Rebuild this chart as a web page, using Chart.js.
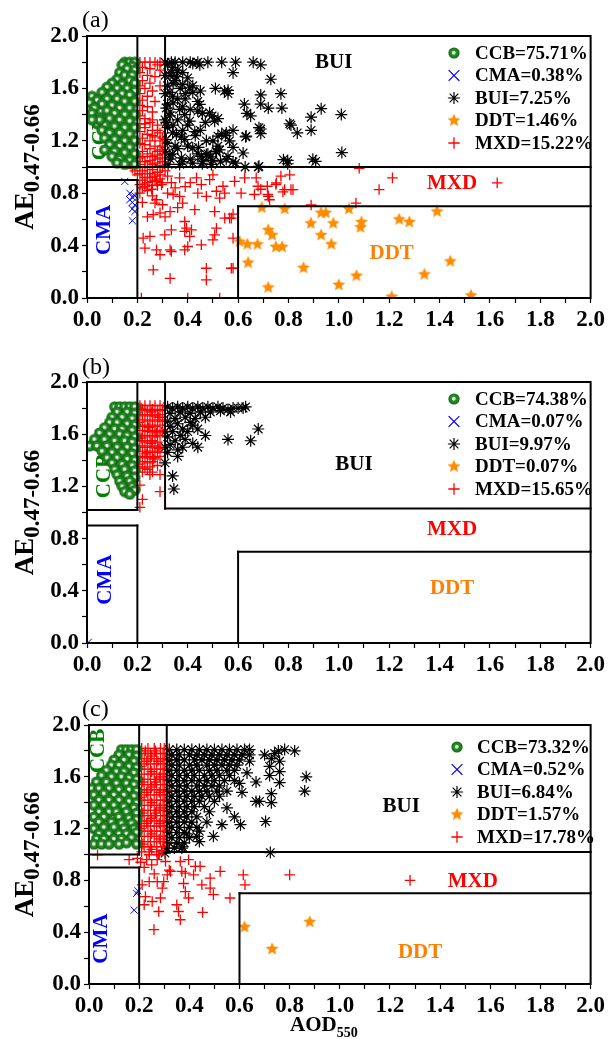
<!DOCTYPE html>
<html>
<head>
<meta charset="utf-8">
<script src="https://cdn.jsdelivr.net/npm/chart.js@4.4.1/dist/chart.umd.min.js"></script>
<style>
  html, body { margin: 0; padding: 0; background: #fff; }
  #wrap { position: relative; width: 608px; height: 1039px; }
  canvas { position: absolute; left: 0; }
</style>
</head>
<body>
<div id="wrap">
  <canvas id="ca" width="608" height="345" style="top:0px"></canvas>
  <canvas id="cb" width="608" height="345" style="top:345px"></canvas>
  <canvas id="cc" width="608" height="349" style="top:690px"></canvas>
</div>
<script>
const classes = ["CCB", "CMA", "BUI", "DDT", "MXD"];
const xTicks = [0.0, 0.2, 0.4, 0.6, 0.8, 1.0, 1.2, 1.4, 1.6, 1.8, 2.0];
const yTicks = [0.0, 0.4, 0.8, 1.2, 1.6, 2.0];

const sharesA = [75.71, 0.38, 7.25, 1.46, 15.22];
const sharesB = [74.38, 0.07, 9.97, 0.07, 15.65];
const sharesC = [73.32, 0.52, 6.84, 1.57, 17.78];

// ---------- panel (a) ----------
const ccbA = [[0.15,1.80],[0.17,1.80],[0.19,1.80],[0.14,1.78],[0.18,1.77],[0.16,1.75],[0.19,1.74],[0.13,1.72],[0.15,1.70],[0.18,1.70],
  [0.12,1.67],[0.17,1.66],[0.19,1.64],[0.10,1.64],[0.14,1.63],[0.08,1.61],[0.12,1.60],[0.16,1.60],[0.19,1.58],[0.06,1.57],
  [0.10,1.56],[0.14,1.56],[0.17,1.55],[0.02,1.54],[0.04,1.51],[0.08,1.52],[0.12,1.52],[0.01,1.49],[0.15,1.50],[0.19,1.50],
  [0.06,1.48],[0.10,1.47],[0.03,1.45],[0.13,1.45],[0.17,1.45],[0.08,1.43],[0.02,1.41],[0.11,1.41],[0.15,1.40],[0.19,1.40],
  [0.05,1.38],[0.09,1.37],[0.13,1.36],[0.17,1.35],[0.04,1.33],[0.07,1.32],[0.11,1.31],[0.15,1.30],[0.19,1.30],[0.06,1.28],
  [0.09,1.26],[0.13,1.26],[0.17,1.25],[0.07,1.22],[0.11,1.21],[0.15,1.20],[0.19,1.20],[0.09,1.17],[0.13,1.16],[0.17,1.15],
  [0.07,1.13],[0.11,1.12],[0.15,1.11],[0.19,1.10],[0.10,1.08],[0.13,1.06],[0.17,1.05],[0.12,1.03],[0.15,1.02],[0.19,1.02],
  [0.05,1.36],[0.02,1.36]];
const cmaA = [[0.15,0.89],[0.17,0.80],[0.18,0.77],[0.17,0.75],[0.18,0.73],[0.19,0.71],[0.18,0.68],[0.19,0.66],[0.18,0.59],[0.19,0.78]];
const buiA = [[0.31,1.80],[0.335,1.80],[0.35,1.80],[0.38,1.80],[0.41,1.80],[0.44,1.80],[0.48,1.80],[0.535,1.80],[0.59,1.80],[0.66,1.80],
  [0.69,1.78],[0.42,1.79],[0.448,1.78],[0.58,1.72],[0.73,1.67],[0.77,1.56],[0.69,1.55],[0.56,1.585],[0.56,1.56],[0.51,1.60],
  [0.546,1.58],[0.625,1.48],[0.69,1.48],[0.72,1.45],[0.774,1.45],[0.635,1.41],[0.65,1.39],[0.93,1.445],[0.89,1.38],[1.01,1.40],
  [0.805,1.33],[0.81,1.32],[0.835,1.26],[0.89,1.28],[0.69,1.29],[0.69,1.255],[0.63,1.23],[0.58,1.28],[0.535,1.255],[0.55,1.24],
  [0.566,1.20],[0.58,1.15],[0.62,1.107],[1.012,1.11],[0.78,1.056],[0.797,1.05],[0.908,1.043],[0.797,1.025],[0.58,1.04],[0.628,1.00],
  [0.68,1.00],[0.458,1.41],[0.497,1.39],[0.52,1.37],[0.474,1.20],[0.443,1.15],[0.49,1.077],[0.512,1.115],[0.458,1.025],[0.507,1.35],
  [0.487,1.414],[0.448,1.478],[0.44,1.427],[0.388,1.40],[0.408,1.35],[0.368,1.44],[0.342,1.49],[0.329,1.57],[0.408,1.605],[0.42,1.57],
  [0.342,1.64],[0.38,1.63],[0.336,1.72],[0.40,1.68],[0.355,1.69],[0.44,1.50],[0.375,1.23],[0.428,1.27],[0.388,1.21],[0.35,1.16],
  [0.42,1.146],[0.329,1.095],[0.375,1.07],[0.454,1.08],[0.474,1.095],[0.514,1.12],[0.527,1.13],[0.553,1.06],[0.59,1.03],[0.494,1.02],
  [0.42,1.03],[0.368,1.02],[0.322,1.02],[0.683,1.005],[0.897,1.06],[0.315,1.45],[0.315,1.34],[0.315,1.21],[0.342,1.32],[0.355,1.25],
  [0.329,1.39],[0.39,1.52],[0.32,1.78],[0.34,1.76],[0.33,1.70],[0.36,1.74],[0.38,1.72],[0.35,1.66],[0.32,1.62],[0.37,1.60],
  [0.39,1.56],[0.34,1.54],[0.36,1.52],[0.32,1.48],[0.38,1.46],[0.41,1.44],[0.33,1.42],[0.36,1.36],[0.40,1.32],[0.32,1.30],
  [0.34,1.26],[0.38,1.28],[0.43,1.24],[0.32,1.18],[0.36,1.14],[0.40,1.16],[0.44,1.10],[0.33,1.06],[0.38,1.04],[0.46,1.04],
  [0.41,1.06],[0.48,1.10],[0.50,1.05],[0.53,1.04],[0.42,1.62],[0.45,1.58],[0.47,1.34],[0.45,1.28],[0.50,1.20],[0.52,1.16],
  [0.56,1.08],[0.34,1.10],[0.31,1.12],[0.31,1.36],[0.31,1.56],[0.31,1.70],[0.683,1.30],[0.632,1.236],[0.52,1.236],[0.553,1.26]];
const ddtA = [[0.694,0.69],[0.785,0.68],[0.889,0.57],[0.93,0.65],[0.948,0.65],[1.04,0.68],[0.978,0.57],[1.09,0.58],[1.086,0.54],[1.24,0.60],
  [1.28,0.58],[1.39,0.66],[0.72,0.52],[0.735,0.48],[0.637,0.41],[0.677,0.41],[0.75,0.39],[0.775,0.39],[0.93,0.48],[0.97,0.41],
  [0.64,0.27],[0.86,0.23],[0.72,0.08],[1.00,0.10],[1.07,0.17],[1.21,0.01],[1.34,0.18],[1.443,0.28],[1.525,0.02],[0.606,0.43]];
const mxdA = [[0.21,1.80],[0.23,1.80],[0.25,1.80],[0.27,1.80],[0.29,1.80],[0.28,1.78],[0.22,1.76],[0.25,1.75],[0.29,1.74],[0.21,1.72],
  [0.24,1.70],[0.27,1.69],[0.22,1.66],[0.25,1.64],[0.21,1.62],[0.23,1.60],[0.29,1.62],[0.26,1.58],[0.21,1.56],[0.24,1.54],
  [0.22,1.51],[0.27,1.50],[0.21,1.47],[0.24,1.46],[0.22,1.43],[0.26,1.42],[0.21,1.39],[0.23,1.37],[0.25,1.34],[0.21,1.33],
  [0.28,1.32],[0.23,1.30],[0.26,1.28],[0.21,1.27],[0.29,1.26],[0.24,1.25],[0.27,1.23],[0.22,1.22],[0.25,1.20],[0.29,1.20],
  [0.21,1.18],[0.23,1.17],[0.27,1.16],[0.25,1.14],[0.29,1.13],[0.22,1.12],[0.24,1.10],[0.27,1.09],[0.21,1.07],[0.29,1.07],
  [0.25,1.05],[0.23,1.04],[0.27,1.03],[0.21,1.02],[0.29,1.01],[0.24,1.00],[0.26,0.98],[0.22,0.97],[0.28,0.96],[0.24,0.95],
  [0.27,0.93],[0.25,0.92],[0.22,0.90],[0.29,0.91],[0.26,0.89],[0.23,0.87],[0.20,0.94],[0.31,0.97],[0.30,0.88],[0.19,0.97],
  [0.18,0.99],[0.21,0.865],[0.23,0.85],[0.256,0.83],[0.276,0.89],[0.296,0.865],[0.32,0.93],[0.335,0.88],[0.368,0.917],[0.39,0.85],
  [0.342,0.79],[0.368,0.776],[0.276,0.75],[0.30,0.712],[0.27,0.725],[0.38,0.725],[0.428,0.674],[0.33,0.66],[0.263,0.636],[0.29,0.65],
  [0.435,0.917],[0.454,0.866],[0.487,0.904],[0.50,0.94],[0.54,0.853],[0.514,0.815],[0.547,0.80],[0.527,0.763],[0.474,0.776],[0.507,0.66],
  [0.547,0.61],[0.573,0.61],[0.514,0.533],[0.507,0.482],[0.50,0.444],[0.388,0.584],[0.395,0.533],[0.415,0.52],[0.388,0.508],[0.408,0.47],
  [0.335,0.52],[0.309,0.482],[0.223,0.457],[0.25,0.47],[0.23,0.38],[0.276,0.367],[0.29,0.33],[0.33,0.367],[0.335,0.355],[0.388,0.367],
  [0.40,0.393],[0.454,0.406],[0.58,0.457],[0.263,0.214],[0.33,0.15],[0.474,0.227],[0.474,0.138],[0.573,0.227],[0.216,0.0],[0.40,0.0],
  [0.527,0.0],[0.586,0.89],[0.626,0.917],[0.672,0.917],[0.679,0.853],[0.72,0.776],[0.752,0.878],[0.785,0.827],[0.805,0.94],[0.77,0.93],
  [0.818,0.827],[0.716,0.853],[0.566,0.61],[1.081,0.99],[1.213,0.917],[1.16,0.828],[1.629,0.879],[1.068,0.725],[0.89,0.71],[0.75,0.866],
  [0.778,0.81],[0.81,0.828],[0.718,0.79],[0.725,0.75],[0.665,0.79],[0.612,0.80],[0.69,0.83],[0.58,0.64],[0.58,0.227],[0.24,0.82],
  [0.21,0.80],[0.26,0.78],[0.22,0.73],[0.32,0.80],[0.35,0.84],[0.41,0.88],[0.44,0.80],[0.36,0.69],[0.31,0.62],[0.24,0.62],
  [0.30,1.10],[0.30,1.16],[0.30,1.04],[0.28,1.12],[0.26,1.08],[0.22,1.08],[0.28,1.06],[0.26,1.02],[0.23,1.00],[0.21,0.95],
  [0.25,0.95],[0.29,0.94],[0.23,0.92],[0.27,0.90],[0.24,0.88],[0.28,0.86],[0.22,0.84],[0.26,0.86],[0.30,1.00],[0.28,1.00],
  [0.26,1.24],[0.28,1.28],[0.30,1.22],[0.23,1.33],[0.26,1.36]];

// ---------- panel (b) ----------
const ccbB = [[0.11,1.81],[0.13,1.81],[0.15,1.81],[0.17,1.81],[0.19,1.81],[0.12,1.77],[0.16,1.77],[0.19,1.76],[0.10,1.73],[0.14,1.73],
  [0.18,1.72],[0.09,1.69],[0.12,1.69],[0.16,1.68],[0.19,1.67],[0.07,1.65],[0.11,1.64],[0.14,1.64],[0.18,1.63],[0.05,1.61],
  [0.09,1.60],[0.13,1.60],[0.16,1.59],[0.19,1.58],[0.03,1.56],[0.07,1.56],[0.11,1.55],[0.15,1.55],[0.18,1.54],[0.01,1.51],
  [0.04,1.51],[0.08,1.51],[0.12,1.50],[0.16,1.50],[0.19,1.49],[0.06,1.47],[0.10,1.46],[0.14,1.46],[0.18,1.45],[0.08,1.42],
  [0.12,1.42],[0.16,1.41],[0.19,1.40],[0.10,1.38],[0.14,1.37],[0.18,1.36],[0.11,1.33],[0.15,1.33],[0.19,1.32],[0.12,1.29],
  [0.16,1.28],[0.19,1.27],[0.13,1.24],[0.17,1.24],[0.14,1.20],[0.18,1.20],[0.15,1.16],[0.19,1.17],[0.17,1.14]];
const cmaB = [[0.005,0.005]];
const buiB = [[0.32,1.81],[0.34,1.80],[0.36,1.81],[0.38,1.80],[0.40,1.81],[0.42,1.80],[0.44,1.81],[0.46,1.80],[0.48,1.81],[0.50,1.80],
  [0.52,1.81],[0.54,1.80],[0.56,1.79],[0.58,1.80],[0.60,1.80],[0.62,1.80],[0.63,1.81],[0.57,1.77],[0.53,1.78],[0.49,1.77],
  [0.45,1.77],[0.41,1.76],[0.37,1.77],[0.33,1.76],[0.47,1.73],[0.43,1.72],[0.39,1.73],[0.35,1.72],[0.32,1.70],[0.36,1.68],
  [0.41,1.69],[0.42,1.67],[0.33,1.66],[0.38,1.64],[0.34,1.62],[0.37,1.59],[0.32,1.58],[0.35,1.55],[0.39,1.56],[0.33,1.52],
  [0.36,1.48],[0.32,1.46],[0.38,1.50],[0.42,1.53],[0.44,1.50],[0.47,1.59],[0.56,1.56],[0.65,1.55],[0.68,1.64],[0.36,1.43],
  [0.31,1.38],[0.34,1.28],[0.345,1.18],[0.40,1.62],[0.44,1.64],[0.31,1.62],[0.31,1.50]];
const ddtB = [];
const mxdB = [[0.21,1.82],[0.23,1.82],[0.25,1.82],[0.27,1.82],[0.29,1.82],[0.22,1.79],[0.24,1.78],[0.26,1.79],[0.28,1.78],[0.30,1.79],
  [0.21,1.75],[0.23,1.74],[0.25,1.75],[0.27,1.74],[0.29,1.75],[0.22,1.71],[0.24,1.70],[0.26,1.71],[0.28,1.70],[0.30,1.71],
  [0.21,1.67],[0.23,1.66],[0.25,1.67],[0.27,1.66],[0.29,1.67],[0.22,1.63],[0.24,1.62],[0.26,1.63],[0.28,1.62],[0.30,1.63],
  [0.21,1.59],[0.23,1.58],[0.25,1.59],[0.27,1.58],[0.29,1.59],[0.22,1.55],[0.24,1.54],[0.26,1.55],[0.28,1.54],[0.21,1.51],
  [0.23,1.50],[0.25,1.51],[0.27,1.50],[0.29,1.51],[0.22,1.47],[0.24,1.46],[0.26,1.47],[0.28,1.46],[0.21,1.43],[0.23,1.42],
  [0.25,1.43],[0.27,1.42],[0.22,1.39],[0.24,1.38],[0.26,1.39],[0.21,1.35],[0.23,1.34],[0.25,1.35],[0.28,1.36],[0.22,1.31],
  [0.24,1.33],[0.26,1.31],[0.29,1.29],[0.21,1.21],[0.29,1.16],[0.22,1.10],[0.21,1.04],
  [0.215,1.80],[0.255,1.77],[0.285,1.73],[0.205,1.69],[0.245,1.65],[0.275,1.61],[0.215,1.57],[0.255,1.53],[0.285,1.49],[0.235,1.45],
  [0.265,1.41],[0.29,1.43],[0.205,1.37],[0.25,1.29]];

// ---------- panel (c) ----------
const ccbC = [[0.13,1.81],[0.15,1.81],[0.17,1.81],[0.19,1.81],[0.12,1.77],[0.16,1.77],[0.19,1.76],[0.10,1.73],[0.14,1.73],[0.18,1.72],
  [0.09,1.69],[0.12,1.69],[0.16,1.68],[0.19,1.67],[0.07,1.65],[0.11,1.64],[0.14,1.64],[0.18,1.63],[0.05,1.61],[0.09,1.60],
  [0.13,1.60],[0.16,1.59],[0.19,1.58],[0.03,1.56],[0.07,1.56],[0.11,1.55],[0.15,1.55],[0.18,1.54],[0.01,1.51],[0.04,1.51],
  [0.08,1.51],[0.12,1.50],[0.16,1.50],[0.19,1.49],[0.02,1.46],[0.06,1.47],[0.10,1.46],[0.14,1.46],[0.18,1.45],[0.04,1.42],
  [0.08,1.42],[0.12,1.42],[0.16,1.41],[0.19,1.40],[0.02,1.38],[0.06,1.38],[0.10,1.38],[0.14,1.37],[0.18,1.36],[0.04,1.33],
  [0.08,1.33],[0.11,1.33],[0.15,1.33],[0.19,1.32],[0.02,1.29],[0.06,1.29],[0.12,1.29],[0.16,1.28],[0.19,1.27],[0.04,1.25],
  [0.09,1.25],[0.13,1.24],[0.17,1.24],[0.02,1.20],[0.06,1.21],[0.10,1.21],[0.14,1.20],[0.18,1.20],[0.04,1.16],[0.08,1.16],
  [0.12,1.16],[0.15,1.16],[0.19,1.17],[0.03,1.12],[0.06,1.12],[0.10,1.12],[0.13,1.12],[0.17,1.13],[0.02,1.08],[0.05,1.08],
  [0.08,1.08],[0.12,1.08],[0.15,1.09],[0.19,1.08]];
const cmaC = [[0.19,0.70],[0.18,0.57],[0.195,0.72]];
const buiC = [[0.32,1.81],[0.35,1.81],[0.38,1.81],[0.41,1.81],[0.44,1.81],[0.47,1.81],[0.50,1.81],[0.53,1.81],[0.56,1.81],[0.59,1.81],
  [0.62,1.81],[0.64,1.81],[0.33,1.77],[0.36,1.77],[0.40,1.77],[0.43,1.77],[0.46,1.77],[0.49,1.77],[0.52,1.77],[0.55,1.77],
  [0.58,1.77],[0.61,1.77],[0.64,1.77],[0.32,1.73],[0.35,1.73],[0.38,1.73],[0.42,1.73],[0.45,1.73],[0.48,1.73],[0.51,1.73],
  [0.54,1.73],[0.57,1.73],[0.60,1.73],[0.33,1.69],[0.36,1.69],[0.40,1.69],[0.43,1.69],[0.47,1.69],[0.50,1.69],[0.53,1.69],
  [0.56,1.69],[0.59,1.69],[0.32,1.65],[0.35,1.65],[0.38,1.65],[0.41,1.65],[0.44,1.65],[0.48,1.65],[0.51,1.65],[0.55,1.65],
  [0.58,1.65],[0.33,1.61],[0.36,1.61],[0.39,1.61],[0.42,1.61],[0.46,1.61],[0.49,1.61],[0.52,1.61],[0.56,1.61],[0.32,1.57],
  [0.35,1.57],[0.38,1.57],[0.41,1.57],[0.44,1.57],[0.47,1.57],[0.50,1.57],[0.54,1.57],[0.58,1.57],[0.33,1.53],[0.36,1.53],
  [0.39,1.53],[0.43,1.53],[0.46,1.53],[0.49,1.53],[0.52,1.53],[0.32,1.49],[0.35,1.49],[0.38,1.49],[0.41,1.49],[0.44,1.49],
  [0.47,1.49],[0.51,1.49],[0.55,1.49],[0.33,1.45],[0.36,1.45],[0.39,1.45],[0.42,1.45],[0.45,1.45],[0.48,1.45],[0.32,1.41],
  [0.35,1.41],[0.38,1.41],[0.41,1.41],[0.44,1.41],[0.50,1.41],[0.33,1.37],[0.36,1.37],[0.39,1.37],[0.42,1.37],[0.46,1.37],
  [0.32,1.33],[0.35,1.33],[0.38,1.33],[0.41,1.33],[0.48,1.33],[0.33,1.29],[0.36,1.29],[0.39,1.29],[0.43,1.29],[0.32,1.25],
  [0.35,1.25],[0.38,1.25],[0.41,1.25],[0.33,1.21],[0.36,1.21],[0.40,1.21],[0.43,1.21],[0.32,1.17],[0.35,1.17],[0.38,1.17],
  [0.33,1.13],[0.36,1.13],[0.40,1.13],[0.32,1.09],[0.35,1.09],[0.38,1.09],[0.31,1.05],[0.34,1.05],[0.37,1.05],
  [0.755,1.80],[0.78,1.81],[0.82,1.80],[0.866,1.60],[0.86,1.49],[0.76,1.72],[0.76,1.64],[0.76,1.555],[0.727,1.74],[0.72,1.68],
  [0.72,1.61],[0.727,1.47],[0.727,1.40],[0.666,1.41],[0.68,1.41],[0.666,1.56],[0.704,1.255],[0.723,1.015],[0.604,1.23],[0.53,1.23],
  [0.58,1.29],[0.55,1.36],[0.496,1.14],[0.44,1.18],[0.44,1.10],[0.372,1.06],[0.388,1.16],[0.303,1.01],[0.61,1.48],[0.63,1.63],
  [0.60,1.55],[0.52,1.45],[0.64,1.72],[0.70,1.77],[0.74,1.78],[0.47,1.25],[0.43,1.14]];
const ddtC = [[0.62,0.44],[0.73,0.27],[0.88,0.48]];
const mxdC = [[0.21,1.82],[0.235,1.82],[0.26,1.82],[0.285,1.82],[0.30,1.82],[0.22,1.78],[0.245,1.78],[0.27,1.78],[0.295,1.78],
  [0.21,1.74],[0.235,1.74],[0.26,1.74],[0.285,1.74],[0.30,1.74],[0.22,1.70],[0.245,1.70],[0.27,1.70],[0.295,1.70],
  [0.21,1.66],[0.235,1.66],[0.26,1.66],[0.285,1.66],[0.30,1.66],[0.22,1.62],[0.245,1.62],[0.27,1.62],[0.295,1.62],
  [0.21,1.58],[0.235,1.58],[0.26,1.58],[0.285,1.58],[0.30,1.58],[0.22,1.54],[0.245,1.54],[0.27,1.54],[0.295,1.54],
  [0.21,1.50],[0.235,1.50],[0.26,1.50],[0.285,1.50],[0.30,1.50],[0.22,1.46],[0.245,1.46],[0.27,1.46],[0.295,1.46],
  [0.21,1.42],[0.235,1.42],[0.26,1.42],[0.285,1.42],[0.30,1.42],[0.22,1.38],[0.245,1.38],[0.27,1.38],[0.295,1.38],
  [0.21,1.34],[0.235,1.34],[0.26,1.34],[0.285,1.34],[0.30,1.34],[0.22,1.30],[0.245,1.30],[0.27,1.30],[0.295,1.30],
  [0.21,1.26],[0.235,1.26],[0.26,1.26],[0.285,1.26],[0.30,1.26],[0.22,1.22],[0.245,1.22],[0.27,1.22],[0.295,1.22],
  [0.21,1.18],[0.235,1.18],[0.26,1.18],[0.285,1.18],[0.30,1.18],[0.22,1.14],[0.245,1.14],[0.27,1.14],[0.295,1.14],
  [0.21,1.10],[0.235,1.10],[0.26,1.10],[0.285,1.10],[0.30,1.10],[0.22,1.06],[0.245,1.06],[0.27,1.06],[0.295,1.06],
  [0.21,1.02],[0.24,1.02],[0.27,1.02],[0.29,1.03],
  [0.225,1.80],[0.25,1.76],[0.275,1.72],[0.205,1.68],[0.25,1.64],[0.28,1.60],[0.215,1.56],[0.25,1.52],[0.28,1.48],[0.205,1.44],
  [0.25,1.40],[0.28,1.36],[0.215,1.32],[0.25,1.28],[0.28,1.24],[0.205,1.20],[0.25,1.16],[0.28,1.12],[0.215,1.08],[0.25,1.04],
  [0.28,1.00],[0.31,1.50],[0.31,1.30],[0.31,1.10],[0.265,1.80],[0.23,1.72],[0.265,1.56],[0.23,1.48],[0.265,1.32],[0.23,1.24],
  [0.034,0.997],[0.16,0.96],[0.193,0.97],[0.206,0.94],[0.24,0.998],[0.272,0.96],[0.278,0.998],[0.305,0.946],[0.364,0.946],[0.397,0.96],
  [0.424,0.908],[0.443,0.908],[0.523,0.87],[0.37,0.87],[0.384,0.856],[0.417,0.843],[0.325,0.87],[0.312,0.843],[0.615,0.843],[0.80,0.843],
  [0.622,0.766],[0.483,0.817],[0.45,0.766],[0.483,0.74],[0.496,0.69],[0.377,0.776],[0.384,0.713],[0.397,0.664],[0.298,0.79],[0.272,0.79],
  [0.292,0.74],[0.24,0.79],[0.212,0.766],[0.225,0.675],[0.252,0.637],[0.285,0.664],[0.22,0.612],[0.278,0.56],[0.35,0.612],[0.357,0.56],
  [0.364,0.496],[0.453,0.553],[0.259,0.42],[0.562,0.664],[1.28,0.80],[0.22,0.90],[0.25,0.92],[0.32,0.88],[0.26,0.85],[0.23,0.96]];

const FONT = "'Liberation Serif', 'Times New Roman', serif";

function ballImage() {
  const c = document.createElement("canvas");
  c.width = 12; c.height = 12;
  const g = c.getContext("2d");
  const grd = g.createRadialGradient(5.6, 5.6, 0.2, 6, 6, 6);
  grd.addColorStop(0, "#ffffff");
  grd.addColorStop(0.22, "#c8e4c8");
  grd.addColorStop(0.36, "#2f902f");
  grd.addColorStop(0.75, "#187a18");
  grd.addColorStop(1, "#0a540a");
  g.fillStyle = grd;
  g.beginPath(); g.arc(6, 6, 5.6, 0, Math.PI * 2); g.fill();
  return c;
}

function starImage(r) {
  const s = Math.ceil(r * 2 + 2);
  const c = document.createElement("canvas");
  c.width = s; c.height = s;
  const g = c.getContext("2d");
  g.fillStyle = "#ff8c00";
  g.beginPath();
  for (let i = 0; i < 10; i++) {
    const rr = i % 2 === 0 ? r : r * 0.45;
    const a = -Math.PI / 2 + i * Math.PI / 5;
    g.lineTo(s / 2 + rr * Math.cos(a), s / 2 + rr * Math.sin(a));
  }
  g.closePath(); g.fill();
  return c;
}

const ball = ballImage();
const star = starImage(6.8);
const pts = arr => arr.map(p => ({ x: p[0], y: p[1] }));

function datasets(ccb, cma, bui, ddt, mxd) {
  return [
    { label: "CCB", data: pts(ccb), pointStyle: ball, pointRadius: 6 },
    { label: "CMA", data: pts(cma), pointStyle: "crossRot", pointRadius: 5, pointBorderColor: "#0000ff", pointBorderWidth: 1 },
    { label: "DDT", data: pts(ddt), pointStyle: star, pointRadius: 7 },
    { label: "MXD", data: pts(mxd), pointStyle: "cross", pointRadius: 5.3, pointBorderColor: "#ff0000", pointBorderWidth: 1.3 },
    { label: "BUI", data: pts(bui), pointStyle: "star", pointRadius: 6, pointBorderColor: "#000000", pointBorderWidth: 1.2 }
  ];
}

// per panel decoration: region boundaries, labels, legend placement
const panels = {
  ca: { tag: "(a)", tagY: 27, shares: sharesA, legTop: 17, legX: 454, txtX: 475, xTitle: false,
    lines: [[0, 1, 2, 1], [0.2, 1, 0.2, 2], [0.31, 1, 0.31, 2], [0, 0.9, 0.2, 0.9], [0.2, 0, 0.2, 0.9], [0.6, 0, 0.6, 0.7], [0.6, 0.7, 2, 0.7]],
    words: [["BUI", 0.98, 1.80, "#000", 0], ["MXD", 1.45, 0.87, "#ff0000", 0], ["DDT", 1.21, 0.34, "#ff8000", 0],
            ["CMA", 0.07, 0.52, "#0000ff", 1], ["CCB", 0.055, 1.22, "#008000", 1]] },
  cb: { tag: "(b)", tagY: 29, shares: sharesB, legTop: 17, legX: 454, txtX: 475, xTitle: false,
    lines: [[0, 1.02, 0.2, 1.02], [0.2, 1.02, 0.2, 2], [0.31, 1.03, 0.31, 2], [0.31, 1.03, 2, 1.03], [0, 0.9, 0.2, 0.9], [0.2, 0, 0.2, 0.9], [0.6, 0, 0.6, 0.7], [0.6, 0.7, 2, 0.7]],
    words: [["BUI", 1.06, 1.37, "#000", 0], ["MXD", 1.45, 0.87, "#ff0000", 0], ["DDT", 1.45, 0.42, "#ff8000", 0],
            ["CMA", 0.075, 0.485, "#0000ff", 1], ["CCB", 0.07, 1.28, "#008000", 1]] },
  cc: { tag: "(c)", tagY: 26, shares: sharesC, legTop: 22, legX: 457, txtX: 477, xTitle: true,
    lines: [[0, 1.0, 0.2, 1.0], [0.2, 1.0, 0.2, 2], [0.31, 1.02, 0.31, 2], [0.31, 1.02, 2, 1.02], [0, 0.9, 0.2, 0.9], [0.2, 0, 0.2, 0.9], [0.6, 0, 0.6, 0.7], [0.6, 0.7, 2, 0.7]],
    words: [["BUI", 1.245, 1.37, "#000", 0], ["MXD", 1.53, 0.79, "#ff0000", 0], ["DDT", 1.32, 0.24, "#ff8000", 0],
            ["CMA", 0.05, 0.35, "#0000ff", 1], ["CCB", 0.04, 1.80, "#008000", 1]] }
};

function legendMark(ctx, i, x, y) {
  ctx.save();
  ctx.lineWidth = 1.1;
  if (i === 0) ctx.drawImage(ball, x - 6, y - 6);
  if (i === 1) {
    ctx.strokeStyle = "#0000ff"; ctx.beginPath();
    ctx.moveTo(x - 5, y - 5); ctx.lineTo(x + 5, y + 5); ctx.moveTo(x - 5, y + 5); ctx.lineTo(x + 5, y - 5); ctx.stroke();
  }
  if (i === 2) {
    ctx.strokeStyle = "#000"; ctx.lineWidth = 1.2; ctx.beginPath();
    ctx.moveTo(x - 5.5, y); ctx.lineTo(x + 5.5, y); ctx.moveTo(x, y - 5.5); ctx.lineTo(x, y + 5.5);
    ctx.moveTo(x - 3.9, y - 3.9); ctx.lineTo(x + 3.9, y + 3.9); ctx.moveTo(x - 3.9, y + 3.9); ctx.lineTo(x + 3.9, y - 3.9); ctx.stroke();
  }
  if (i === 3) ctx.drawImage(star, x - star.width / 2, y - star.height / 2);
  if (i === 4) {
    ctx.strokeStyle = "#ff0000"; ctx.lineWidth = 1.3; ctx.beginPath();
    ctx.moveTo(x - 5, y); ctx.lineTo(x + 5, y); ctx.moveTo(x, y - 5); ctx.lineTo(x, y + 5); ctx.stroke();
  }
  ctx.restore();
}

const deco = {
  id: "deco",
  beforeDatasetsDraw(chart) {
    const p = panels[chart.canvas.id];
    const ctx = chart.ctx, xs = chart.scales.x, ys = chart.scales.y;
    ctx.save();
    ctx.font = "bold 21px " + FONT;
    ctx.textAlign = "center"; ctx.textBaseline = "middle";
    p.words.forEach(w => {
      ctx.fillStyle = w[3];
      const px = xs.getPixelForValue(w[1]), py = ys.getPixelForValue(w[2]);
      if (w[4]) {
        ctx.save(); ctx.translate(px, py); ctx.rotate(-Math.PI / 2); ctx.fillText(w[0], 0, 0); ctx.restore();
      } else {
        ctx.fillText(w[0], px, py);
      }
    });
    ctx.restore();
  },
  afterDatasetsDraw(chart) {
    const p = panels[chart.canvas.id];
    const ctx = chart.ctx, xs = chart.scales.x, ys = chart.scales.y, a = chart.chartArea;
    ctx.save();
    ctx.strokeStyle = "#000"; ctx.lineWidth = 2; ctx.lineCap = "square";
    p.lines.forEach(l => {
      ctx.beginPath();
      ctx.moveTo(xs.getPixelForValue(l[0]), ys.getPixelForValue(l[1]));
      ctx.lineTo(xs.getPixelForValue(l[2]), ys.getPixelForValue(l[3]));
      ctx.stroke();
    });
    ctx.strokeRect(a.left, a.top, a.right - a.left, a.bottom - a.top);
    ctx.font = "bold 19px " + FONT;
    ctx.fillStyle = "#000"; ctx.textAlign = "left"; ctx.textBaseline = "middle";
    classes.forEach((c, i) => {
      const y = a.top + p.legTop + i * 22.5;
      legendMark(ctx, i, p.legX, y);
      ctx.fillText(c + "=" + p.shares[i].toFixed(2) + "%", p.txtX, y + 1);
    });
    ctx.restore();
  },
  afterDraw(chart) {
    const p = panels[chart.canvas.id];
    const ctx = chart.ctx, a = chart.chartArea;
    ctx.save();
    ctx.fillStyle = "#000";
    ctx.font = "24px " + FONT;
    ctx.textAlign = "left"; ctx.textBaseline = "alphabetic";
    ctx.fillText(p.tag, 82, p.tagY);
    // y title AE with subscript
    const big = "bold 27px " + FONT, small = "bold 23px " + FONT;
    ctx.font = big; const w1 = ctx.measureText("AE").width;
    ctx.font = small; const w2 = ctx.measureText("0.47-0.66").width;
    ctx.translate(33, (a.top + a.bottom) / 2);
    ctx.rotate(-Math.PI / 2);
    ctx.font = big; ctx.fillText("AE", -(w1 + w2) / 2, 0);
    ctx.font = small; ctx.fillText("0.47-0.66", -(w1 + w2) / 2 + w1, 6);
    ctx.restore();
    if (p.xTitle) {
      ctx.save();
      ctx.fillStyle = "#000"; ctx.textBaseline = "alphabetic";
      ctx.font = "bold 21px " + FONT; ctx.fillText("AOD", 290, 341);
      const w = ctx.measureText("AOD").width;
      ctx.font = "bold 14px " + FONT; ctx.fillText("550", 290 + w, 347);
      ctx.restore();
    }
  }
};

function makeChart(id, sets, top, left, right, xh) {
  const tickFont = { family: FONT, size: 23, weight: "bold" };
  return new Chart(document.getElementById(id), {
    type: "scatter",
    data: { datasets: sets },
    options: {
      responsive: false,
      animation: false,
      events: [],
      layout: { padding: { top: top, right: right, left: 0, bottom: 0 } },
      plugins: { legend: { display: false }, tooltip: { enabled: false } },
      scales: {
        x: {
          type: "linear", min: 0, max: 2,
          afterFit: s => { s.height = xh; },
          ticks: {
            stepSize: 0.1, autoSkip: false, maxRotation: 0, padding: 3, color: "#000", font: tickFont,
            callback: v => xTicks.some(t => Math.abs(t - v) < 1e-6) ? v.toFixed(1) : ""
          },
          grid: { drawOnChartArea: false, tickLength: 5, color: "#000", tickWidth: 1.2 },
          border: { color: "#000", width: 2 }
        },
        y: {
          type: "linear", min: 0, max: 2,
          afterFit: s => { s.width = left; },
          ticks: {
            stepSize: 0.2, autoSkip: false, padding: 3, color: "#000", font: tickFont,
            callback: v => yTicks.some(t => Math.abs(t - v) < 1e-6) ? v.toFixed(1) : ""
          },
          grid: { drawOnChartArea: false, tickLength: 5, color: "#000", tickWidth: 1.2 },
          border: { color: "#000", width: 2 }
        }
      }
    },
    plugins: [deco]
  });
}

makeChart("ca", datasets(ccbA, cmaA, buiA, ddtA, mxdA), 36, 87, 16, 47);
makeChart("cb", datasets(ccbB, cmaB, buiB, ddtB, mxdB), 37, 87, 16, 47);
makeChart("cc", datasets(ccbC, cmaC, buiC, ddtC, mxdC), 35, 89, 14, 55);
</script>
</body>
</html>
